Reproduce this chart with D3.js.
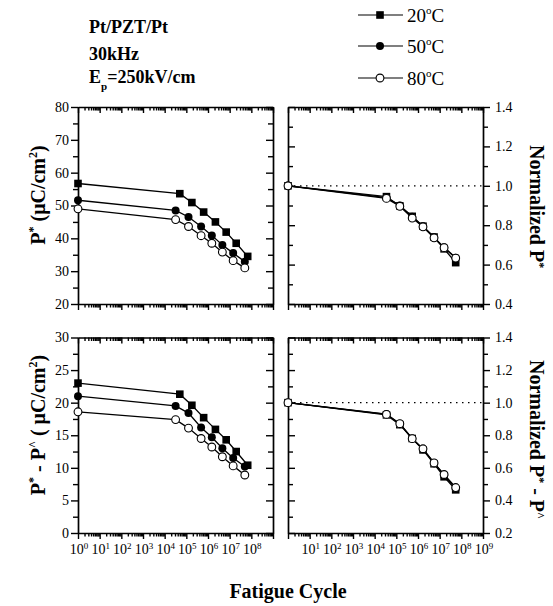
<!DOCTYPE html>
<html><head><meta charset="utf-8">
<script src="https://cdn.jsdelivr.net/npm/d3@7"></script>
<style>body{margin:0;background:#fff}svg{display:block}</style>
</head><body>
<script>
// ---- data ----
const cyclesSq   = [1, 5.0e4, 1.8e5, 6.3e5, 2.2e6, 6.9e6, 2.0e7, 6.8e7];
const cyclesCirc = [1, 3.2e4, 1.26e5, 4.8e5, 1.5e6, 4.6e6, 1.45e7, 5.0e7];
const cyclesNorm = [1, 3.5e4, 1.45e5, 5.4e5, 1.7e6, 5.5e6, 1.6e7, 5.5e7];
const P20 = [56.7, 53.6, 50.9, 48.0, 45.0, 41.9, 38.5, 34.5];
const P50 = [51.6, 48.5, 46.5, 43.6, 40.9, 38.0, 35.5, 32.9];
const P80 = [49.0, 45.7, 43.6, 40.8, 38.5, 35.8, 33.2, 31.0];
const D20 = [23.0, 21.3, 19.6, 17.7, 15.9, 14.3, 12.5, 10.4];
const D50 = [21.0, 19.5, 18.4, 16.2, 14.7, 13.0, 11.5, 10.2];
const D80 = [18.6, 17.4, 16.1, 14.5, 13.2, 11.7, 10.3, 8.9];
const nP20 = [1.0, 0.945, 0.898, 0.845, 0.795, 0.740, 0.680, 0.610];
const nP50 = [1.0, 0.940, 0.900, 0.843, 0.793, 0.737, 0.688, 0.635];
const nP80 = [1.0, 0.936, 0.896, 0.836, 0.792, 0.736, 0.686, 0.633];
const nD20 = [1.0, 0.925, 0.865, 0.780, 0.710, 0.625, 0.545, 0.465];
const nD50 = [1.0, 0.930, 0.870, 0.780, 0.715, 0.630, 0.555, 0.472];
const nD80 = [1.0, 0.928, 0.871, 0.779, 0.717, 0.630, 0.559, 0.479];
const seriesNames = ["20", "50", "80"];
const yTicksTopL = [20, 30, 40, 50, 60, 70, 80];
const yTicksBotL = [0, 5, 10, 15, 20, 25, 30];
const yTicksTopR = [0.4, 0.6, 0.8, 1.0, 1.2, 1.4];
const yTicksBotR = [0.2, 0.4, 0.6, 0.8, 1.0, 1.2, 1.4];
const xLabelsL = [0, 1, 2, 3, 4, 5, 6, 7, 8];
const xLabelsR = [1, 2, 3, 4, 5, 6, 7, 8, 9];

const W = 553, H = 606;
const FONT = "'Liberation Serif','Times New Roman',serif";
const svg = d3.select("body").append("svg").attr("width", W).attr("height", H)
  .style("font-family", FONT);

const xL = d3.scaleLog().domain([1, 1e9]).range([78, 273]);
const xR = d3.scaleLog().domain([1, 1e9]).range([288, 483]);
const yTopL = d3.scaleLinear().domain([20, 80]).range([304, 107]);
const yTopR = d3.scaleLinear().domain([0.4, 1.4]).range([304, 107]);
const yBotL = d3.scaleLinear().domain([0, 30]).range([533, 337.5]);
const yBotR = d3.scaleLinear().domain([0.2, 1.4]).range([533, 337.5]);

const xMajor = d3.range(0, 10).map(k => Math.pow(10, k));
const xMinor = [];
for (let k = 0; k < 9; k++) for (let m = 2; m <= 9; m++) xMinor.push(m * Math.pow(10, k));

function styleAxis(g, w) {
  g.select(".domain").attr("stroke", "#000").attr("stroke-width", w || 1.7);
  g.selectAll(".tick line").attr("stroke", "#000").attr("stroke-width", 1.4);
  g.selectAll(".tick text").attr("fill", "#000").style("font-family", FONT).style("font-size", "14px");
}

function frame(x, y, yMajor, yMinor, outerSide, fmt) {
  const [x0, x1] = x.range();
  const [yb, yt] = y.range();
  svg.append("g").attr("transform", `translate(0,${yt})`)
    .call(d3.axisBottom(x).tickValues(xMinor).tickSize(3.5).tickSizeOuter(0).tickFormat(""))
    .call(g => { styleAxis(g); g.select(".domain").remove(); });
  svg.append("g").attr("transform", `translate(0,${yt})`)
    .call(d3.axisBottom(x).tickValues(xMajor).tickSize(6).tickSizeOuter(0).tickFormat(""))
    .call(g => styleAxis(g));
  svg.append("g").attr("transform", `translate(0,${yb})`)
    .call(d3.axisBottom(x).tickValues(xMinor).tickSize(3.5).tickSizeOuter(0).tickFormat(""))
    .call(g => { styleAxis(g); g.select(".domain").remove(); });
  svg.append("g").attr("transform", `translate(0,${yb})`)
    .call(d3.axisBottom(x).tickValues(xMajor).tickSize(6).tickSizeOuter(0).tickFormat(""))
    .call(g => styleAxis(g));
  if (outerSide === "left") {
    svg.append("g").attr("transform", `translate(${x0},0)`)
      .call(d3.axisLeft(y).tickValues(yMinor).tickSize(5).tickSizeOuter(0).tickFormat(""))
      .call(g => { styleAxis(g); g.select(".domain").remove(); });
    svg.append("g").attr("transform", `translate(${x0},0)`)
      .call(d3.axisLeft(y).tickValues(yMajor).tickSize(7).tickSizeOuter(0).tickPadding(2).tickFormat(d3.format(fmt)))
      .call(g => styleAxis(g));
    svg.append("g").attr("transform", `translate(${x1},0)`)
      .call(d3.axisLeft(y).tickValues(yMinor).tickSize(5).tickSizeOuter(0).tickFormat(""))
      .call(g => { styleAxis(g); g.select(".domain").remove(); });
    svg.append("g").attr("transform", `translate(${x1},0)`)
      .call(d3.axisLeft(y).tickValues(yMajor).tickSize(7).tickSizeOuter(0).tickFormat(""))
      .call(g => styleAxis(g));
  } else {
    svg.append("g").attr("transform", `translate(${x1},0)`)
      .call(d3.axisRight(y).tickValues(yMinor).tickSize(5).tickSizeOuter(0).tickFormat(""))
      .call(g => { styleAxis(g); g.select(".domain").remove(); });
    svg.append("g").attr("transform", `translate(${x1},0)`)
      .call(d3.axisRight(y).tickValues(yMajor).tickSize(7).tickSizeOuter(0).tickPadding(5).tickFormat(d3.format(fmt)))
      .call(g => styleAxis(g));
    svg.append("g").attr("transform", `translate(${x0},0)`)
      .call(d3.axisRight(y).tickValues(yMinor).tickSize(5).tickSizeOuter(0).tickFormat(""))
      .call(g => { styleAxis(g); g.select(".domain").remove(); });
    svg.append("g").attr("transform", `translate(${x0},0)`)
      .call(d3.axisRight(y).tickValues(yMajor).tickSize(7).tickSizeOuter(0).tickFormat(""))
      .call(g => styleAxis(g));
  }
}

function minorsOf(major) {
  const out = [];
  for (let i = 0; i < major.length - 1; i++) out.push((major[i] + major[i + 1]) / 2);
  return out;
}

frame(xL, yTopL, yTicksTopL, minorsOf(yTicksTopL), "left", "d");
frame(xL, yBotL, yTicksBotL, minorsOf(yTicksBotL), "left", "d");
frame(xR, yTopR, yTicksTopR, minorsOf(yTicksTopR), "right", ".1f");
frame(xR, yBotR, yTicksBotR, minorsOf(yTicksBotR), "right", ".1f");

[[xR, yTopR], [xR, yBotR]].forEach(([x, y]) => {
  svg.append("line").attr("x1", x.range()[0]).attr("x2", x.range()[1])
    .attr("y1", y(1)).attr("y2", y(1))
    .attr("stroke", "#000").attr("stroke-width", 1.2).attr("stroke-dasharray", "1.5,4.5");
});

function drawMarker(g, kind, cx, cy) {
  if (kind === 0) g.append("rect").attr("x", cx - 3.8).attr("y", cy - 3.8).attr("width", 7.6).attr("height", 7.6).attr("fill", "#000");
  else if (kind === 1) g.append("circle").attr("cx", cx).attr("cy", cy).attr("r", 4).attr("fill", "#000");
  else g.append("circle").attr("cx", cx).attr("cy", cy).attr("r", 3.9).attr("fill", "#fff").attr("stroke", "#000").attr("stroke-width", 1.1);
}

function plotSeries(x, y, list) {
  const line = d3.line().x(d => x(d[0])).y(d => y(d[1]));
  const g = svg.append("g");
  list.forEach(s => {
    const pts = s.xs.map((c, i) => [c, s.ys[i]]);
    g.append("path").attr("d", line(pts)).attr("fill", "none").attr("stroke", "#000").attr("stroke-width", 1.3);
  });
  list.forEach((s, k) => {
    s.xs.forEach((c, i) => drawMarker(g, k, x(c), y(s.ys[i])));
  });
}

plotSeries(xL, yTopL, [{xs: cyclesSq, ys: P20}, {xs: cyclesCirc, ys: P50}, {xs: cyclesCirc, ys: P80}]);
plotSeries(xL, yBotL, [{xs: cyclesSq, ys: D20}, {xs: cyclesCirc, ys: D50}, {xs: cyclesCirc, ys: D80}]);
plotSeries(xR, yTopR, [{xs: cyclesNorm, ys: nP20}, {xs: cyclesNorm, ys: nP50}, {xs: cyclesNorm, ys: nP80}]);
plotSeries(xR, yBotR, [{xs: cyclesNorm, ys: nD20}, {xs: cyclesNorm, ys: nD50}, {xs: cyclesNorm, ys: nD80}]);

function xLabels(x, exps) {
  exps.forEach(e => {
    const t = svg.append("text").attr("x", x(Math.pow(10, e)) + 1).attr("y", 554)
      .attr("text-anchor", "middle").style("font-size", "14px");
    t.append("tspan").text("10");
    t.append("tspan").attr("dy", -5.5).style("font-size", "9px").text(e);
  });
}
xLabels(xL, xLabelsL);
xLabels(xR, xLabelsR);

function bold(t) { return t.style("font-weight", "bold"); }
const tl = bold(svg.append("text").attr("transform", "translate(45,195) rotate(-90)")
  .attr("text-anchor", "middle").style("font-size", "20px"));
tl.append("tspan").text("P");
tl.append("tspan").attr("dy", -8).style("font-size", "12px").text("*");
tl.append("tspan").attr("dy", 8).text(" (\u03bcC/cm");
tl.append("tspan").attr("dy", -8).style("font-size", "12px").text("2");
tl.append("tspan").attr("dy", 8).text(")");

const bl = bold(svg.append("text").attr("transform", "translate(45,425) rotate(-90)")
  .attr("text-anchor", "middle").style("font-size", "20px"));
bl.append("tspan").text("P");
bl.append("tspan").attr("dy", -8).style("font-size", "12px").text("*");
bl.append("tspan").attr("dy", 8).text(" - P");
bl.append("tspan").attr("dy", -8).style("font-size", "12px").text("^");
bl.append("tspan").attr("dy", 8).text(" ( \u03bcC/cm");
bl.append("tspan").attr("dy", -8).style("font-size", "12px").text("2");
bl.append("tspan").attr("dy", 8).text(")");

const tr = bold(svg.append("text").attr("transform", "translate(530,145) rotate(90)")
  .attr("text-anchor", "start").style("font-size", "20px"));
tr.append("tspan").text("Normalized P");
tr.append("tspan").attr("dy", -6).style("font-size", "12px").text("*");

const br = bold(svg.append("text").attr("transform", "translate(530,360) rotate(90)")
  .attr("text-anchor", "start").style("font-size", "20px"));
br.append("tspan").text("Normalized P");
br.append("tspan").attr("dy", -6).style("font-size", "12px").text("*");
br.append("tspan").attr("dy", 6).text(" - P");
br.append("tspan").attr("dy", -6).style("font-size", "12px").text("^");

bold(svg.append("text").attr("x", 288).attr("y", 598).attr("text-anchor", "middle")
  .style("font-size", "20px").text("Fatigue Cycle"));

bold(svg.append("text").attr("x", 89).attr("y", 33).style("font-size", "18px").text("Pt/PZT/Pt"));
bold(svg.append("text").attr("x", 89).attr("y", 60).style("font-size", "18px").text("30kHz"));
const ep = bold(svg.append("text").attr("x", 89).attr("y", 83).style("font-size", "18px"));
ep.append("tspan").text("E");
ep.append("tspan").attr("dy", 7).style("font-size", "11px").text("p");
ep.append("tspan").attr("dy", -7).text("=250kV/cm");

const legY = [15, 46, 78];
seriesNames.forEach((n, k) => {
  const g = svg.append("g");
  g.append("line").attr("x1", 358).attr("x2", 403).attr("y1", legY[k]).attr("y2", legY[k])
    .attr("stroke", "#000").attr("stroke-width", 1.2);
  drawMarker(g, k, 380, legY[k]);
  const t = g.append("text").attr("x", 407).attr("y", legY[k] + 7).style("font-size", "19px");
  t.append("tspan").text(n);
  t.append("tspan").attr("dy", -8).style("font-size", "11px").text("o");
  t.append("tspan").attr("dy", 8).text("C");
});
</script>
</body></html>
